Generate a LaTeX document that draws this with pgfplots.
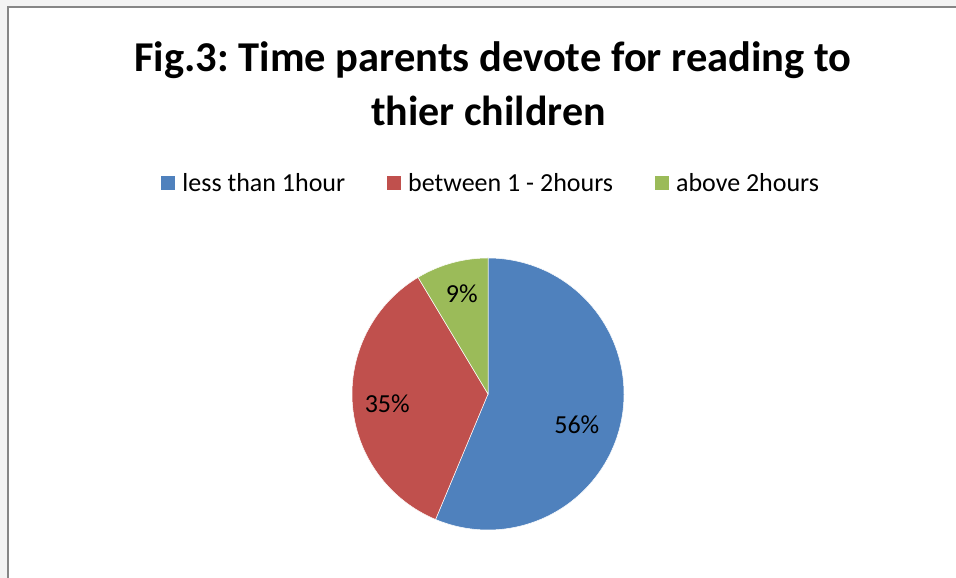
\documentclass[border=0pt]{standalone}
\usepackage{pgfplots}
\usepackage{pgfplotstable}
\pgfplotsset{compat=1.18}
\usepackage{fontspec}
\setmainfont{Carlito}
\definecolor{pieBlue}{HTML}{4F81BD}
\definecolor{pieRed}{HTML}{C0504D}
\definecolor{pieGreen}{HTML}{9BBB59}
\definecolor{bgGray}{HTML}{F3F3F3}
\definecolor{frameGray}{HTML}{868686}
% shares (percent); slices run clockwise from 12 o'clock
\pgfplotstableread{
label   value
less    56.3
between 35.1
above   8.6
}\piedata
\begin{document}
\frenchspacing
\begin{tikzpicture}[x=1bp,y=1bp]
\useasboundingbox (0,0) rectangle (956,578);
\fill[bgGray] (0,0) rectangle (956,578);
\fill[white] (7.7,0) rectangle (956,571.2);
\draw[frameGray, line width=2bp] (7.7,0) -- (7.7,571.2) -- (956,571.2);
\node[anchor=base, font=\fontsize{42.5bp}{50bp}\selectfont\bfseries] at (493,506) {Fig.3: Time parents devote for reading to};
\node[anchor=base, font=\fontsize{42bp}{50bp}\selectfont\bfseries] at (488.5,452.3) {thier children};
\begin{axis}[
  at={(488bp,184bp)}, anchor=center,
  width=272bp, height=272bp, scale only axis,
  xmin=-1, xmax=1, ymin=-1, ymax=1,
  hide axis, clip=false,
  legend columns=3,
  legend style={at={(-0.706,1.276)}, anchor=west, draw=none, fill=none,
    inner sep=0pt, outer sep=0pt,
    font=\fontsize{26bp}{30bp}\selectfont,
    cells={anchor=west},
    nodes={inner xsep=3.5bp, inner ysep=0pt},
    /tikz/every odd column/.append style={column sep=3.5bp},
    /tikz/every even column/.append style={column sep=37bp},
    /tikz/column 4/.append style={column sep=39bp}},
  legend image code/.code={\fill[#1] (0bp,-7.5bp) rectangle (15bp,7.5bp);},
]
\addplot[fill=pieBlue, draw=white, line width=0.5bp, domain=-112.68:90, samples=120, variable=\t]
  ({cos(\t)},{sin(\t)}) -- (axis cs:0,0) -- cycle;
\addlegendentry{less than 1hour}
\addplot[fill=pieRed, draw=white, line width=0.5bp, domain=-239.04:-112.68, samples=80, variable=\t]
  ({cos(\t)},{sin(\t)}) -- (axis cs:0,0) -- cycle;
\addlegendentry{between 1 - 2hours}
\addplot[fill=pieGreen, draw=white, line width=0.5bp, domain=-270:-239.04, samples=30, variable=\t]
  ({cos(\t)},{sin(\t)}) -- (axis cs:0,0) -- cycle;
\addlegendentry{above 2hours}
\node[anchor=base, font=\fontsize{26bp}{30bp}\selectfont] at (axis cs:-0.193,0.674) {9\%};
\node[anchor=base, font=\fontsize{26bp}{30bp}\selectfont] at (axis cs:-0.741,-0.135) {35\%};
\node[anchor=base, font=\fontsize{26bp}{30bp}\selectfont] at (axis cs:0.653,-0.292) {56\%};
\end{axis}
\end{tikzpicture}
\end{document}
